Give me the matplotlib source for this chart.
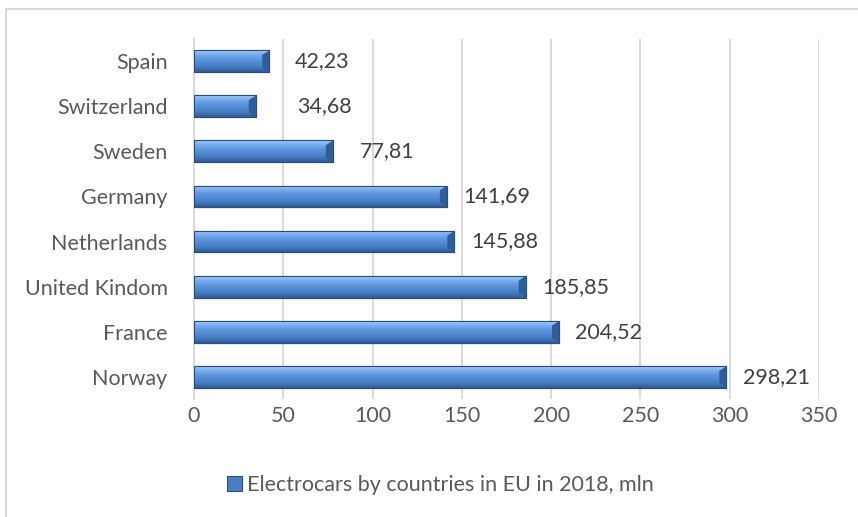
import matplotlib.pyplot as plt
import numpy as np
from matplotlib.lines import Line2D
from matplotlib.patches import Rectangle
from matplotlib.colors import LinearSegmentedColormap

countries = ['Norway', 'France', 'United Kindom', 'Netherlands', 'Germany',
             'Sweden', 'Switzerland', 'Spain']
values = [298.21, 204.52, 185.85, 145.88, 141.69, 77.81, 34.68, 42.23]
value_labels = ['298,21', '204,52', '185,85', '145,88', '141,69', '77,81', '34,68', '42,23']
# gap between bar end and label, in data units (labels were placed by hand)
label_gap = [9.2, 8.8, 9.0, 9.2, 8.9, 15.1, 23.0, 14.3]
xticks = [0, 50, 100, 150, 200, 250, 300, 350]
legend_text = 'Electrocars by countries in EU in 2018, mln'

plt.rcParams['font.family'] = ['Lato', 'DejaVu Sans']
FS = 15.5

fig = plt.figure(figsize=(8.58, 5.17), dpi=100)
ax = fig.add_axes([0.2261, 0.2273, 0.7284, 0.6982])

y = np.arange(len(countries))
bars = ax.barh(y, values, height=0.48, color='#5b92da', edgecolor='#2a4f7e',
               linewidth=0.8, zorder=3)

# bevel look: vertical gradient clipped to each bar (light on top, dark below)
grad = np.linspace(0, 1, 64).reshape(-1, 1)
cmap = LinearSegmentedColormap.from_list(
    'bev', ['#a6cbf5', '#78adee', '#5f97de', '#5189d0', '#4479be', '#2f5a94'])
for b in bars:
    x0, y0, w, h = b.get_x(), b.get_y(), b.get_width(), b.get_height()
    im = ax.imshow(grad, cmap=cmap, aspect='auto', extent=[x0, x0 + w, y0, y0 + h],
                   origin='upper', zorder=3.5, interpolation='bilinear')
    im.set_clip_path(b)
    # dark right end facet
    tri = plt.Polygon([[x0 + w, y0], [x0 + w, y0 + h], [x0 + w - 4, y0 + h * 0.78],
                       [x0 + w - 4, y0 + h * 0.22]], closed=True,
                      facecolor='#2f5d98', edgecolor='none', zorder=3.6)
    ax.add_patch(tri)
    ax.add_patch(Rectangle((x0, y0), w, h, fill=False, edgecolor='#2a4f7e',
                           linewidth=0.8, zorder=3.7))

for i, v in enumerate(values):
    ax.text(v + label_gap[i], y[i], value_labels[i], va='center', ha='left',
            fontsize=FS, color='#404040', zorder=4)

ax.set_xlim(0, 350)
ax.set_ylim(-0.5, len(countries) - 0.5)
ax.set_xticks(xticks)
ax.set_yticks(y)
ax.set_yticklabels(countries)
ax.tick_params(axis='both', length=0, labelsize=FS, labelcolor='#595959')
ax.tick_params(axis='y', pad=19)
ax.tick_params(axis='x', pad=5)
ax.grid(axis='x', color='#d9d9d9', linewidth=1.4, zorder=0)
ax.set_axisbelow(True)
for s in ['top', 'right', 'bottom']:
    ax.spines[s].set_visible(False)
ax.spines['left'].set_color('#d9d9d9')
ax.spines['left'].set_linewidth(1.4)

# legend
handle = Rectangle((0, 0), 1, 1, facecolor='#4a7ec4', edgecolor='#2a4f7e', linewidth=0.8)
fig.legend([handle], [legend_text], loc='center', bbox_to_anchor=(0.513, 0.062),
           frameon=False, fontsize=FS, handlelength=0.7, handleheight=0.7,
           handletextpad=0.25, labelcolor='#595959')

# chart border (left and top visible)
fig.add_artist(Line2D([6 / 858, 6 / 858], [0, 1 - 9 / 517], color='#d9d9d9', linewidth=1.5))
fig.add_artist(Line2D([6 / 858, 1], [1 - 9 / 517, 1 - 9 / 517], color='#d9d9d9', linewidth=1.5))

fig.savefig('out.png', dpi=100)
